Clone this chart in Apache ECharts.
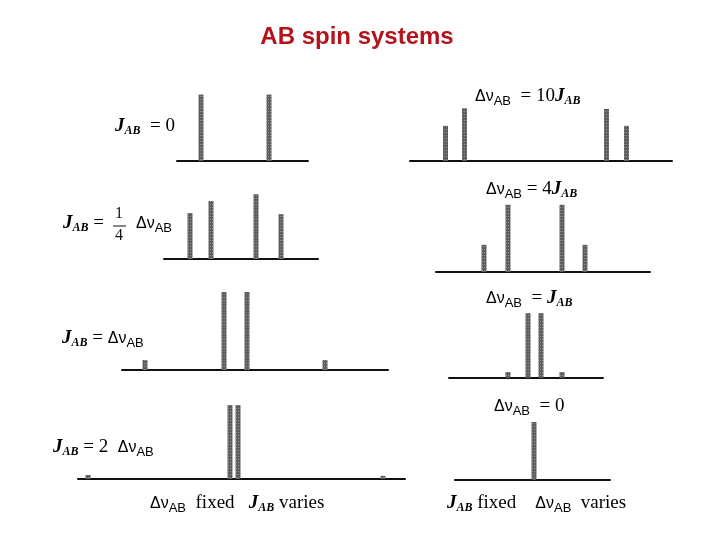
<!DOCTYPE html>
<html>
<head>
<meta charset="utf-8">
<title>AB spin systems</title>
<script src="https://cdn.jsdelivr.net/npm/echarts@6/dist/echarts.min.js"></script>
<style>
  html, body { margin: 0; padding: 0; background: #fff; }
  #chart { width: 720px; height: 540px; }
</style>
</head>
<body>
<div id="chart"></div>
<script>
// line positions (relative frequency, centred on the multiplet) and intensities
// left column: delta-nu fixed, J varies
const posJ0 = [-34, 34];
const intJ0 = [0.83, 0.83];
const posJquarter = [-43.5, -22.5, 22.5, 47.5];
const intJquarter = [0.575, 0.725, 0.81, 0.56];
const posJeq = [-90.5, -11.5, 11.5, 89.5];
const intJeq = [0.125, 0.975, 0.975, 0.125];
const posJtwo = [-146, -4, 4, 149];
const intJtwo = [0.05, 0.925, 0.925, 0.04];
// right column: J fixed, delta-nu varies
const posD10 = [-90, -71, 71, 91];
const intD10 = [0.44, 0.66, 0.65, 0.44];
const posD4 = [-51, -27, 27, 50];
const intD4 = [0.34, 0.84, 0.84, 0.34];
const posD1 = [-26.5, -6.5, 6.5, 27.5];
const intD1 = [0.075, 0.81, 0.81, 0.075];
const posD0 = [0];
const intD0 = [0.725];

// panel layout: [left, baselineY, width, xMin, xMax, positions, intensities]
const panels = [
  [177, 161, 131, -58, 73, posJ0, intJ0],
  [164, 259, 154, -69.5, 84.5, posJquarter, intJquarter],
  [122, 370, 266, -113.5, 152.5, posJeq, intJeq],
  [78, 479, 327, -156, 171, posJtwo, intJtwo],
  [410, 161, 262, -125.5, 136.5, posD10, intD10],
  [436, 272, 214, -99, 115, posD4, intD4],
  [449, 378, 154, -85.5, 68.5, posD1, intD1],
  [455, 480, 155, -79, 76, posD0, intD0]
];
const FULL = 80; // px height for intensity 1

const grid = [], xAxis = [], yAxis = [], series = [];
panels.forEach((p, i) => {
  const [left, base, width, xmin, xmax, pos, inten] = p;
  grid.push({ left: left, top: base - FULL, width: width, height: FULL });
  xAxis.push({
    type: 'value', gridIndex: i, min: xmin, max: xmax,
    axisLine: { onZero: false, lineStyle: { color: '#111', width: 2 } },
    axisTick: { show: false }, axisLabel: { show: false }, splitLine: { show: false }
  });
  yAxis.push({ type: 'value', gridIndex: i, min: 0, max: 1, show: false });
  series.push({
    type: 'bar', xAxisIndex: i, yAxisIndex: i, barWidth: 5, silent: true,
    data: pos.map((x, k) => [x, inten[k]]),
    itemStyle: {
      color: '#5e5e5e',
      decal: { symbol: 'rect', symbolSize: 1, dashArrayX: [1, 1], dashArrayY: [1, 2], color: 'rgba(255,255,255,0.3)' }
    }
  });
});

const rich = {
  j: { fontFamily: 'Liberation Serif', fontStyle: 'italic', fontWeight: 'bold', fontSize: 19, color: '#111' },
  js: { fontFamily: 'Liberation Serif', fontStyle: 'italic', fontWeight: 'bold', fontSize: 12, color: '#111', padding: [9, 0, 0, 0] },
  t: { fontFamily: 'Liberation Serif', fontSize: 19, color: '#111' },
  d: { fontFamily: 'Liberation Sans', fontSize: 16, color: '#111' },
  ds: { fontFamily: 'Liberation Sans', fontSize: 13, color: '#111', padding: [9, 0, 0, 0] }
};
function label(x, y, text) {
  return { type: 'text', left: x, top: y, silent: true, style: { text: text, rich: rich, verticalAlign: 'middle' } };
}

const graphics = [
  label(115, 117, '{j|J}{js|AB}{t|  = 0}'),
  label(475, 87, '{d|Δν}{ds|AB}{t|  = 10}{j|J}{js|AB}'),
  label(63, 214, '{j|J}{js|AB}{t| = }'),
  { type: 'text', left: 115, top: 206, silent: true, style: { text: '1', fontFamily: 'Liberation Serif', fontSize: 16, fill: '#111' } },
  { type: 'line', silent: true, shape: { x1: 113, y1: 226, x2: 126, y2: 226 }, style: { stroke: '#111', lineWidth: 1 } },
  { type: 'text', left: 115, top: 228, silent: true, style: { text: '4', fontFamily: 'Liberation Serif', fontSize: 16, fill: '#111' } },
  label(136, 216, '{d|Δν}{ds|AB}'),
  label(486, 180, '{d|Δν}{ds|AB}{t| = 4}{j|J}{js|AB}'),
  label(62, 329, '{j|J}{js|AB}{t| = }{d|Δν}{ds|AB}'),
  label(486, 289, '{d|Δν}{ds|AB}{t|  = }{j|J}{js|AB}'),
  label(53, 438, '{j|J}{js|AB}{t| = 2  }{d|Δν}{ds|AB}'),
  label(494, 397, '{d|Δν}{ds|AB}{t|  = 0}'),
  label(150, 494, '{d|Δν}{ds|AB}{t|  fixed   }{j|J}{js|AB}{t| varies}'),
  label(447, 494, '{j|J}{js|AB}{t| fixed    }{d|Δν}{ds|AB}{t|  varies}')
];

const chart = echarts.init(document.getElementById('chart'));
chart.setOption({
  animation: false,
  backgroundColor: '#fff',
  graphic: graphics.concat([{
    type: 'text', x: 357, y: 37, silent: true,
    style: {
      text: 'AB spin systems', align: 'center', verticalAlign: 'middle', fill: '#b3141c',
      fontFamily: 'Liberation Sans', fontWeight: 'bold', fontSize: 24
    }
  }]),
  grid: grid,
  xAxis: xAxis,
  yAxis: yAxis,
  series: series
});
</script>
</body>
</html>
